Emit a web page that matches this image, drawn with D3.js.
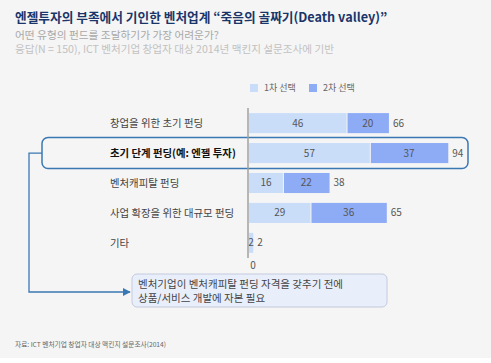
<!DOCTYPE html>
<html>
<head>
<meta charset="utf-8">
<script src="https://cdn.jsdelivr.net/npm/d3@7"></script>
<style>
  body { margin: 0; background: #fff; }
  svg { display: block; font-family: "Noto Sans CJK KR", "Noto Sans", sans-serif; }
</style>
</head>
<body>
<div id="chart"></div>
<script>
// data
var categories = ["창업을 위한 초기 펀딩", "초기 단계 펀딩(예: 엔젤 투자)", "벤처캐피탈 펀딩", "사업 확장을 위한 대규모 펀딩", "기타"];
var firstChoice = [46, 57, 16, 29, 2];
var secondChoice = [20, 37, 22, 36, 0];
var seriesNames = ["1차 선택", "2차 선택"];
var highlighted = "초기 단계 펀딩(예: 엔젤 투자)";

var W = 491, H = 363;
var colors = ["#c9ddf9", "#8eabf6"];

var svg = d3.select("#chart").append("svg")
    .attr("width", W)
    .attr("height", H);

// background
svg.append("rect").attr("width", W).attr("height", 358).attr("fill", "#f5f5f5");

// titles
svg.append("text")
    .attr("x", 15).attr("y", 22)
    .attr("fill", "#1a356a")
    .style("font-size", "12.7px")
    .style("font-weight", "bold")
    .text("엔젤투자의 부족에서 기인한 벤처업계 “죽음의 골짜기(Death valley)”");
svg.append("text")
    .attr("x", 15).attr("y", 39)
    .attr("fill", "#a8a8a8")
    .style("font-size", "10.7px")
    .text("어떤 유형의 펀드를 조달하기가 가장 어려운가?");
svg.append("text")
    .attr("x", 15).attr("y", 53)
    .attr("fill", "#c2c2c2")
    .style("font-size", "10.6px")
    .text("응답(N = 150), ICT 벤처기업 창업자 대상 2014년 맥킨지 설문조사에 기반");

// scales
var x = d3.scaleLinear().domain([0, 100]).range([249, 461]);
var y = d3.scaleBand().domain(categories).range([108, 258]).paddingInner(0.33).paddingOuter(0.17);

// rows
var data = categories.map(function(c, i) {
  return { cat: c, a: firstChoice[i], b: secondChoice[i], total: firstChoice[i] + secondChoice[i] };
});

// highlight box + connector + callout
var hy = y(highlighted) + y.bandwidth() / 2;
svg.append("rect")
    .attr("x", 42).attr("y", hy - 15.5)
    .attr("width", 426).attr("height", 31)
    .attr("rx", 6)
    .attr("fill", "none")
    .attr("stroke", "#3a78b4")
    .attr("stroke-width", 1.5);

svg.append("defs").append("marker")
    .attr("id", "arr")
    .attr("viewBox", "0 0 10 10")
    .attr("refX", 9).attr("refY", 5)
    .attr("markerWidth", 6).attr("markerHeight", 6)
    .attr("orient", "auto")
  .append("path")
    .attr("d", "M0,0L10,5L0,10z")
    .attr("fill", "#3a78b4");

svg.append("path")
    .attr("d", "M42," + hy + "H29V292H130")
    .attr("fill", "none")
    .attr("stroke", "#3a78b4")
    .attr("stroke-width", 1.3)
    .attr("marker-end", "url(#arr)");

svg.append("rect")
    .attr("x", 132).attr("y", 274)
    .attr("width", 255).attr("height", 33)
    .attr("rx", 5)
    .attr("fill", "#e9eefb")
    .attr("stroke", "#c3cadb");
var callout = svg.append("text")
    .attr("fill", "#444")
    .style("font-size", "10.5px");
callout.append("tspan").attr("x", 138).attr("y", 288).text("벤처기업이 벤처캐피탈 펀딩 자격을 갖추기 전에");
callout.append("tspan").attr("x", 138).attr("y", 302).text("상품/서비스 개발에 자본 필요");

// category labels
svg.append("g").selectAll("text")
  .data(data)
  .join("text")
    .attr("x", 110)
    .attr("y", d => y(d.cat) + y.bandwidth() / 2)
    .attr("dy", "0.35em")
    .attr("fill", d => d.cat === highlighted ? "#111" : "#444")
    .style("font-size", "10.4px")
    .style("font-weight", d => d.cat === highlighted ? "bold" : null)
    .text(d => d.cat);

// bars
var rows = svg.append("g").selectAll("g")
  .data(data)
  .join("g")
    .attr("transform", d => "translate(0," + y(d.cat) + ")");

rows.filter(d => d.a > 0).append("rect")
    .attr("x", x(0))
    .attr("width", d => x(d.a) - x(0))
    .attr("height", y.bandwidth())
    .attr("fill", colors[0]);
rows.filter(d => d.b > 0).append("rect")
    .attr("x", d => x(d.a) + 1)
    .attr("width", d => x(d.a + d.b) - x(d.a) - 1)
    .attr("height", y.bandwidth())
    .attr("fill", colors[1]);

rows.append("text")
    .attr("x", d => (x(0) + x(d.a)) / 2)
    .attr("y", y.bandwidth() / 2)
    .attr("dy", "0.35em")
    .attr("text-anchor", "middle")
    .attr("fill", "#555")
    .style("font-size", "10px")
    .text(d => d.a);
rows.filter(d => d.b > 0).append("text")
    .attr("x", d => (x(d.a) + x(d.a + d.b)) / 2)
    .attr("y", y.bandwidth() / 2)
    .attr("dy", "0.35em")
    .attr("text-anchor", "middle")
    .attr("fill", "#555")
    .style("font-size", "10px")
    .text(d => d.b);
rows.append("text")
    .attr("x", d => x(d.total) + 4)
    .attr("y", y.bandwidth() / 2)
    .attr("dy", "0.35em")
    .attr("fill", "#555")
    .style("font-size", "10px")
    .text(d => d.total);

// zero axis line
svg.append("line")
    .attr("x1", x(0) - 1).attr("x2", x(0) - 1)
    .attr("y1", 108).attr("y2", 258)
    .attr("stroke", "#a0a0a0")
    .attr("stroke-width", 1.5);
svg.append("text")
    .attr("x", x(0) + 4).attr("y", 269)
    .attr("text-anchor", "middle")
    .attr("fill", "#555")
    .style("font-size", "10px")
    .text(x.domain()[0]);

// legend
var legend = svg.append("g").selectAll("g")
  .data(seriesNames)
  .join("g")
    .attr("transform", (d, i) => "translate(" + (250 + i * 59) + ",84)");
legend.append("rect")
    .attr("width", 8).attr("height", 8)
    .attr("fill", (d, i) => colors[i]);
legend.append("text")
    .attr("x", 14).attr("y", 4)
    .attr("dy", "0.35em")
    .attr("fill", "#666")
    .style("font-size", "9px")
    .text(d => d);

// source
svg.append("text")
    .attr("x", 15).attr("y", 347)
    .attr("fill", "#666")
    .style("font-size", "6.7px")
    .text("자료: ICT 벤처기업 창업자 대상 맥킨지 설문조사(2014)");
</script>
</body>
</html>
